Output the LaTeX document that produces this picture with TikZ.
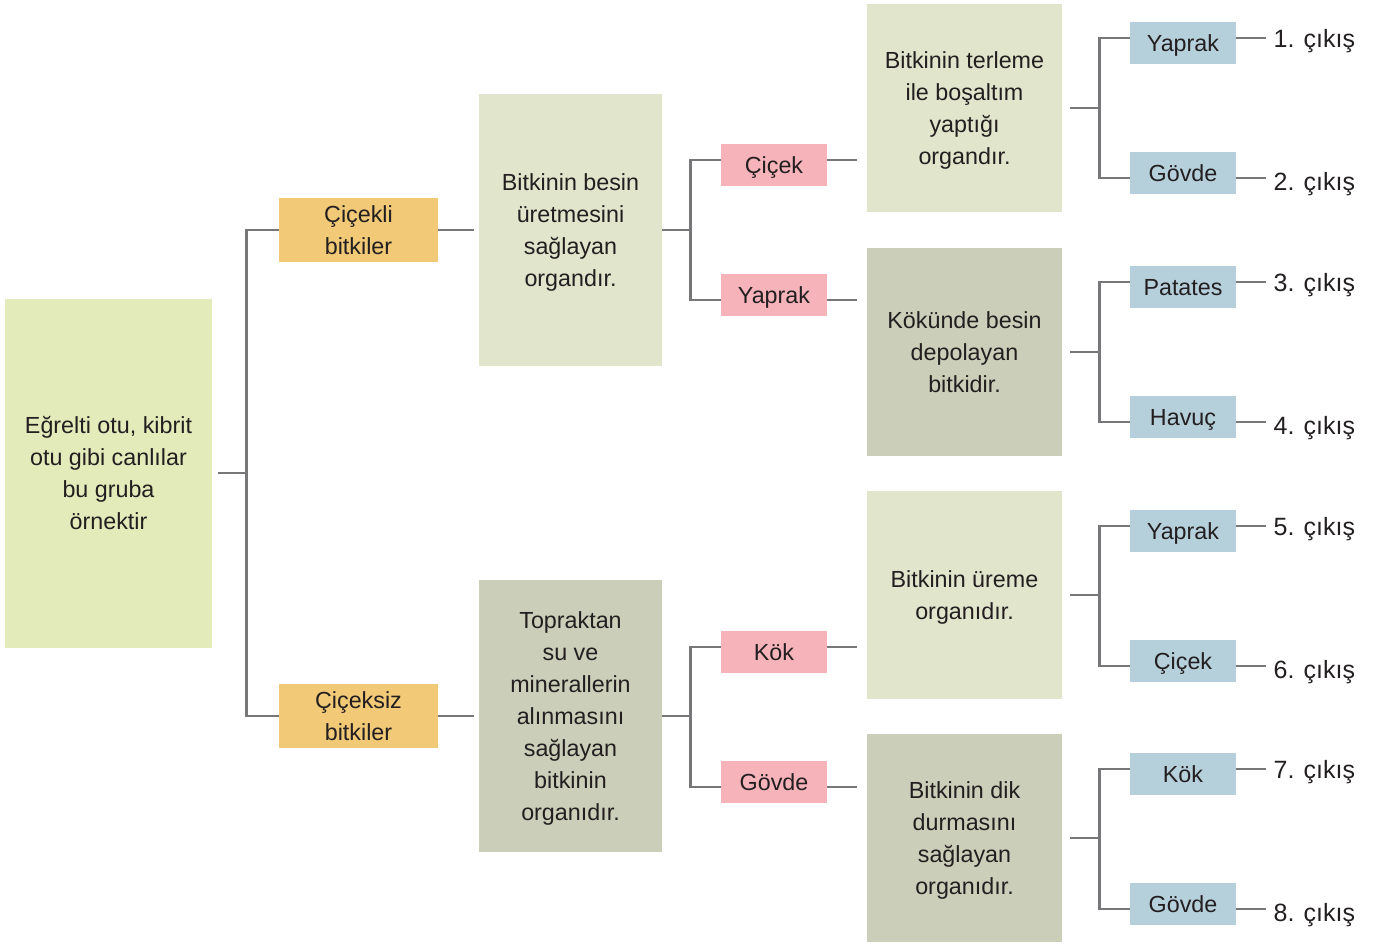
\documentclass[tikz,border=0pt]{standalone}
\usepackage{fontspec}
\setmainfont{Liberation Sans}
\usetikzlibrary{positioning}

\definecolor{txtdark}{HTML}{231F20}
\definecolor{linegray}{HTML}{77777A}
\definecolor{rootfill}{HTML}{E3EBBA}
\definecolor{groupfill}{HTML}{F1C977}
\definecolor{lightfill}{HTML}{E1E5CB}
\definecolor{darkfill}{HTML}{CBCEB9}
\definecolor{organfill}{HTML}{F6B3BA}
\definecolor{choicefill}{HTML}{B5D0DB}

\begin{document}
\begin{tikzpicture}[x=1pt,y=-1pt,
  box/.style={rectangle,inner sep=0pt,align=center,text=txtdark,
    font=\fontsize{23.3}{32}\selectfont},
  lines/.style={text height={16.7pt+(#1-1)*32pt},text depth=0pt},
  rootbox/.style={box,fill=rootfill,minimum width=207pt,minimum height=349pt},
  groupbox/.style={box,fill=groupfill,minimum width=159pt,minimum height=64pt,lines=2},
  infobox/.style={box,fill=#1,minimum width=183pt,minimum height=272pt},
  notebox/.style={box,fill=#1,minimum width=195pt,minimum height=208pt},
  organbox/.style={box,fill=organfill,minimum width=106pt,minimum height=42pt,lines=1},
  choicebox/.style={box,fill=choicefill,minimum width=106pt,minimum height=42pt,lines=1},
  exitlbl/.style={anchor=base west,inner xsep=6pt,inner ysep=0pt,text=txtdark,
    font=\fontsize{25}{32}\selectfont},
  link/.style={draw=linegray,line width=2.8pt}]
\useasboundingbox (0,0) rectangle (1378,943);

% left part
\node [rootbox,lines=4] (root) at (108.5,473) {Eğrelti otu, kibrit\\otu gibi canlılar\\bu gruba\\örnektir};
\node [groupbox] (flower) at (358.5,230) {Çiçekli\\bitkiler};
\node [groupbox] (noflower) at (358.5,716) {Çiçeksiz\\bitkiler};
\node [infobox=lightfill,lines=4] (feed) at (570.5,230) {Bitkinin besin\\üretmesini\\sağlayan\\organdır.};
\node [infobox=darkfill,lines=7] (soil) at (570.5,716) {Topraktan\\su ve\\minerallerin\\alınmasını\\sağlayan\\bitkinin\\organıdır.};

% organs
\node [organbox] (oCicek) at (774,165) {Çiçek};
\node [organbox] (oYaprak) at (774,295) {Yaprak};
\node [organbox] (oKok) at (774,652) {Kök};
\node [organbox] (oGovde) at (774,782) {Gövde};

% notes
\node [notebox=lightfill,lines=4] (sweat) at (964.5,108) {Bitkinin terleme\\ile boşaltım\\yaptığı\\organdır.};
\node [notebox=darkfill,lines=3] (store) at (964.5,352) {Kökünde besin\\depolayan\\bitkidir.};
\node [notebox=lightfill,lines=2] (repro) at (964.5,595) {Bitkinin üreme\\organıdır.};
\node [notebox=darkfill,lines=4] (stand) at (964.5,838) {Bitkinin dik\\durmasını\\sağlayan\\organıdır.};

% choices
\node [choicebox] (c1) at (1183,43) {Yaprak};
\node [choicebox] (c2) at (1183,173) {Gövde};
\node [choicebox] (c3) at (1183,287) {Patates};
\node [choicebox] (c4) at (1183,417) {Havuç};
\node [choicebox] (c5) at (1183,531) {Yaprak};
\node [choicebox] (c6) at (1183,661) {Çiçek};
\node [choicebox] (c7) at (1183,774) {Kök};
\node [choicebox] (c8) at (1183,904) {Gövde};

% root bracket
\draw [link] ([xshift=6pt]root.east) -- ++(28pt,0) coordinate (rootfork);
\draw [link] (rootfork) |- (flower.west);
\draw [link] (rootfork) |- (noflower.west);
\draw [link,shorten >=5pt] (flower.east) -- (feed.west);
\draw [link,shorten >=5pt] (noflower.east) -- (soil.west);

% organ brackets
\draw [link] (feed.east) -- ++(28pt,0) coordinate (feedfork);
\draw [link] (feedfork) |- ([yshift=5pt]oCicek.west);
\draw [link] (feedfork) |- ([yshift=-5pt]oYaprak.west);
\draw [link] (soil.east) -- ++(28pt,0) coordinate (soilfork);
\draw [link] (soilfork) |- ([yshift=5pt]oKok.west);
\draw [link] (soilfork) |- ([yshift=-5pt]oGovde.west);
\draw [link] ([yshift=5pt]oCicek.east) -- ++(30pt,0) coordinate (oCicekEnd);
\draw [link] ([yshift=-5pt]oYaprak.east) -- ++(30pt,0) coordinate (oYaprakEnd);
\draw [link] ([yshift=5pt]oKok.east) -- ++(30pt,0) coordinate (oKokEnd);
\draw [link] ([yshift=-5pt]oGovde.east) -- ++(30pt,0) coordinate (oGovdeEnd);

% choice brackets
\foreach \note/\up/\down in {sweat/c1/c2,store/c3/c4,repro/c5/c6,stand/c7/c8}{
  \draw [link] ([xshift=8pt]\note.east) -- ++(29pt,0) coordinate (\note fork);
  \draw [link] (\note fork) |- ([yshift=5pt]\up.west);
  \draw [link] (\note fork) |- ([yshift=-5pt]\down.west);
}

% exits
\foreach \c/\n/\s/\b in {c1/1/5/-9,c2/2/-5/-12,c3/3/5/-9,c4/4/-5/-12,c5/5/5/-9,c6/6/-5/-12,c7/7/5/-9,c8/8/-5/-12}{
  \draw [link] ([yshift=\s pt]\c.east) -- ++(30pt,0) node [exitlbl,yshift=\b pt] (exit\n) {\n. çıkış};
}
\end{tikzpicture}
\end{document}
